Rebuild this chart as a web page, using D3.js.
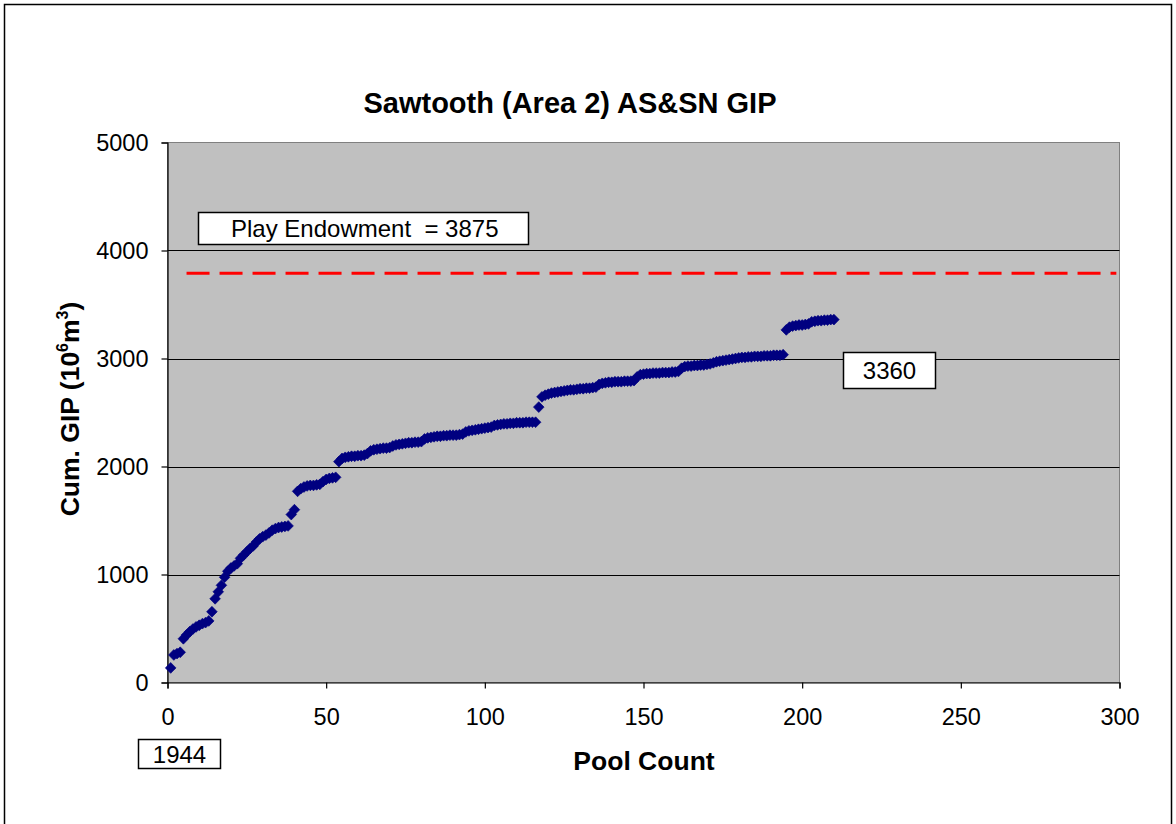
<!DOCTYPE html>
<html>
<head>
<meta charset="utf-8">
<script src="https://cdn.jsdelivr.net/npm/d3@7"></script>
<style>
  html, body { margin: 0; padding: 0; background: #fff; }
  svg { display: block; font-family: "Liberation Sans", Arial, sans-serif; }
</style>
</head>
<body>
<svg id="chart" width="1176" height="824"></svg>
<script>
// ---- data ----
const title = "Sawtooth (Area 2) AS&SN GIP";
const xLabel = "Pool Count";
const xTicks = [0, 50, 100, 150, 200, 250, 300];
const yTicks = [0, 1000, 2000, 3000, 4000, 5000];
const cumGIP = [
  135, 255, 268, 280, 405, 440, 470, 495, 515, 530,
  545, 555, 570, 655, 775, 840, 900, 975, 1030, 1060,
  1080, 1100, 1150, 1180, 1210, 1240, 1265, 1300, 1330, 1350,
  1365, 1385, 1410, 1425, 1435, 1440, 1445, 1450, 1555, 1600,
  1770, 1795, 1810, 1820, 1825, 1825, 1830, 1835, 1860, 1880,
  1890, 1895, 1900, 2045, 2075, 2085, 2090, 2095, 2095, 2100,
  2100, 2105, 2120, 2145, 2155, 2160, 2165, 2170, 2170, 2175,
  2190, 2200, 2205, 2210, 2215, 2220, 2220, 2225, 2225, 2230,
  2255, 2265, 2270, 2275, 2280, 2280, 2285, 2285, 2290, 2290,
  2290, 2295, 2300, 2320, 2330, 2335, 2340, 2345, 2350, 2355,
  2360, 2365, 2380, 2385, 2390, 2395, 2395, 2400, 2400, 2405,
  2405, 2405, 2410, 2410, 2410, 2410, 2550, 2645, 2660, 2670,
  2680, 2685, 2690, 2695, 2700, 2705, 2710, 2710, 2715, 2720,
  2720, 2725, 2725, 2730, 2735, 2760, 2770, 2775, 2780, 2780,
  2785, 2785, 2785, 2790, 2790, 2790, 2795, 2830, 2850, 2855,
  2860, 2860, 2865, 2865, 2865, 2870, 2870, 2870, 2875, 2875,
  2880, 2910, 2925, 2930, 2930, 2935, 2935, 2940, 2940, 2945,
  2950, 2960, 2970, 2975, 2980, 2985, 2990, 2995, 3000, 3005,
  3010, 3010, 3015, 3015, 3020, 3020, 3020, 3025, 3025, 3025,
  3030, 3030, 3030, 3035, 3265, 3290, 3300, 3305, 3310, 3310,
  3315, 3320, 3340, 3345, 3350, 3350, 3355, 3355, 3360, 3360
];
const poolCount = cumGIP.map((_, i) => i + 1);
const endowmentLabel = "Play Endowment\u00A0\u00A0= 3875";
const endowmentLineValue = 3790;
const endowmentLineX = [6, 299];
const finalLabel = "3360";
const yearLabel = "1944";

// ---- layout ----
const svg = d3.select("#chart");
const plot = { left: 167.5, right: 1119.5, top: 142.5, bottom: 682.5 };

const x = d3.scaleLinear().domain([0, 300]).range([plot.left, plot.right]);
const y = d3.scaleLinear().domain([0, 5000]).range([plot.bottom, plot.top]);

// outer border
svg.append("rect").attr("x", 4.5).attr("y", 4.5).attr("width", 1167).attr("height", 830)
  .attr("fill", "#fff").attr("stroke", "#000").attr("stroke-width", 1.5);

// plot area
svg.append("rect")
  .attr("x", plot.left).attr("y", plot.top)
  .attr("width", plot.right - plot.left).attr("height", plot.bottom - plot.top)
  .attr("fill", "#C0C0C0").attr("stroke", "#808080").attr("stroke-width", 1);

// gridlines
svg.append("g").selectAll("line").data(yTicks.filter(d => d > 0 && d < 5000)).join("line")
  .attr("x1", plot.left).attr("x2", plot.right)
  .attr("y1", d => Math.round(y(d)) + 0.5).attr("y2", d => Math.round(y(d)) + 0.5)
  .attr("stroke", "#000").attr("stroke-width", 1);

// axes
const yAxis = d3.axisLeft(y).tickValues(yTicks).tickSize(6).tickPadding(13).tickFormat(d3.format("d"));
const gy = svg.append("g").attr("transform", `translate(${plot.left},0)`).call(yAxis);
const xAxis = d3.axisBottom(x).tickValues(xTicks).tickSize(6).tickPadding(20).tickFormat(d3.format("d"));
const gx = svg.append("g").attr("transform", `translate(0,${plot.bottom})`).call(xAxis);
[gx, gy].forEach(g => {
  g.select(".domain").attr("stroke", "#000").attr("stroke-width", 1.2);
  g.selectAll(".tick line").attr("stroke", "#000").attr("stroke-width", 1.2);
  g.selectAll(".tick text").attr("font-size", 23.5).attr("fill", "#000")
    .attr("font-family", "'Liberation Sans', Arial, sans-serif");
});

// endowment dashed line
svg.append("line")
  .attr("x1", x(endowmentLineX[0])).attr("x2", x(endowmentLineX[1]))
  .attr("y1", y(endowmentLineValue)).attr("y2", y(endowmentLineValue))
  .attr("stroke", "#FF0000").attr("stroke-width", 3)
  .attr("stroke-dasharray", "23,10");

// data markers (diamonds)
const diamond = d3.symbol().type(d3.symbolDiamond).size(50);
svg.append("g").selectAll("path").data(poolCount).join("path")
  .attr("d", diamond)
  .attr("transform", (d, i) => `translate(${x(d)},${y(cumGIP[i])}) scale(1.4,0.82)`)
  .attr("fill", "#000080").attr("stroke", "#000080").attr("stroke-width", 0.6);

// text boxes
function textBox(bx, by, bw, bh, txt, tx) {
  svg.append("rect").attr("x", bx).attr("y", by).attr("width", bw).attr("height", bh)
    .attr("fill", "#fff").attr("stroke", "#000").attr("stroke-width", 1.5);
  svg.append("text").attr("x", tx !== undefined ? tx : bx + bw / 2).attr("y", by + bh / 2)
    .attr("dy", "0.36em").attr("text-anchor", tx !== undefined ? "start" : "middle")
    .attr("font-size", 24).attr("fill", "#000").text(txt);
}
textBox(198.5, 212.5, 330, 32, endowmentLabel, 231);
textBox(843.5, 352.5, 92, 36, finalLabel);
textBox(138.5, 739.5, 82, 29, yearLabel);

// title
svg.append("text").attr("x", 570).attr("y", 103).attr("dy", "0.36em")
  .attr("text-anchor", "middle").attr("font-size", 29).attr("font-weight", "bold")
  .text(title);

// x label
svg.append("text").attr("x", 644).attr("y", 760).attr("dy", "0.36em")
  .attr("text-anchor", "middle").attr("font-size", 26.5).attr("font-weight", "bold")
  .text(xLabel);

// y label with superscripts
const yl = svg.append("text")
  .attr("transform", "translate(79,409) rotate(-90)")
  .attr("text-anchor", "middle").attr("font-size", 26.5).attr("font-weight", "bold");
yl.append("tspan").text("Cum. GIP (10");
yl.append("tspan").attr("font-size", 16).attr("dy", -11).text("6");
yl.append("tspan").attr("dy", 11).text("m");
yl.append("tspan").attr("font-size", 16).attr("dy", -11).text("3");
yl.append("tspan").attr("dy", 11).text(")");
</script>
</body>
</html>
